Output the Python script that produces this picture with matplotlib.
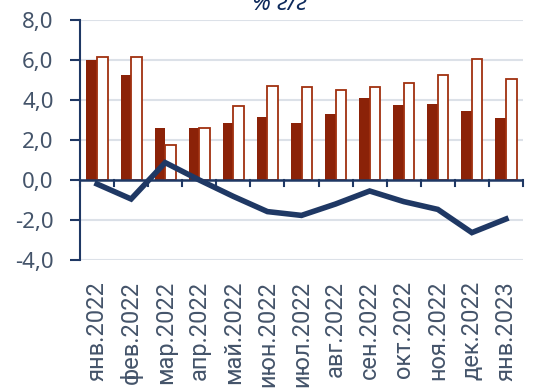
import numpy as np
import matplotlib.pyplot as plt

plt.rcParams["font.family"] = ["Noto Sans", "DejaVu Sans"]

mesyacy = ["янв.2022", "фев.2022", "мар.2022", "апр.2022", "май.2022", "июн.2022",
           "июл.2022", "авг.2022", "сен.2022", "окт.2022", "ноя.2022", "дек.2022",
           "янв.2023"]
ryad_1 = [6.0, 5.25, 2.6, 2.6, 2.87, 3.13, 2.87, 3.32, 4.1, 3.77, 3.8, 3.45, 3.1]
ryad_2 = [6.17, 6.17, 1.75, 2.6, 3.72, 4.72, 4.63, 4.52, 4.65, 4.87, 5.27, 6.05, 5.03]
liniya = [-0.2, -0.95, 0.87, 0.0, -0.82, -1.58, -1.77, -1.2, -0.55, -1.08, -1.47, -2.63, -1.95]
y_ticks = [-4, -2, 0, 2, 4, 6, 8]

krasny = "#8B2208"
sini = "#1F3864"
seryi = "#44546A"

fig = plt.figure(figsize=(5.5, 3.88), dpi=100)
ax = fig.add_axes([80 / 550, (388 - 260) / 388, 443 / 550, 240 / 388])

x = np.arange(len(mesyacy))
w = 0.31
ax.bar(x - w / 2, ryad_1, width=w, color=krasny, zorder=3)
ax.bar(x + w / 2, ryad_2, width=w, facecolor="white", edgecolor="#A0300F",
       linewidth=1.3, zorder=3)
ax.plot(x, liniya, color=sini, linewidth=4, solid_joinstyle="miter", zorder=4)

ax.set_xlim(-0.5, len(mesyacy) - 0.5)
ax.set_ylim(-4, 8)
ax.set_yticks(y_ticks)
ax.set_yticklabels([f"{v:.1f}".replace(".", ",") for v in y_ticks],
                   fontsize=16, color=seryi)
ax.tick_params(axis="y", length=7, width=1.5, color=sini, pad=12)
ax.grid(axis="y", color="#DCE1E8", linewidth=1.5, zorder=0)

# подписи месяцев снизу, отметки на нулевой линии
ax.set_xticks(x)
ax.set_xticklabels(mesyacy, rotation=90, fontsize=17, color=seryi, family="Roboto")
ax.tick_params(axis="x", length=0, pad=15)
for b in np.arange(-0.5, len(mesyacy), 1.0):
    ax.plot([b, b], [0, -0.3], color=sini, linewidth=1.5, zorder=5, clip_on=False)
ax.axhline(0, color=sini, linewidth=1.8, zorder=5)

for s in ["top", "right", "bottom"]:
    ax.spines[s].set_visible(False)
ax.spines["left"].set_color(sini)
ax.spines["left"].set_linewidth(1.5)

fig.text(280 / 550, 1 - 10 / 388, "% г/г", ha="center", va="baseline", fontsize=17,
         fontweight="bold", fontstyle="italic", color="#0E2A5C")

fig.savefig("out.png", dpi=100)
